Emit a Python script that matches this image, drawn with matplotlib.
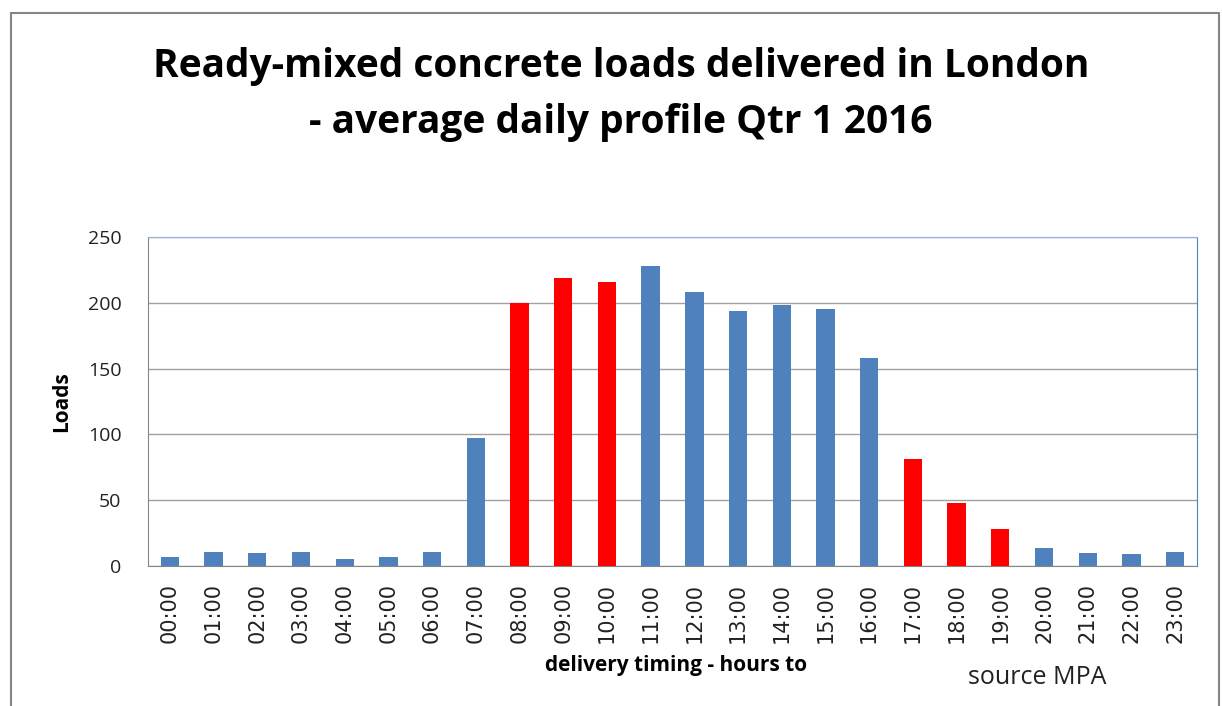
import numpy as np
import matplotlib.pyplot as plt
from matplotlib.patches import Rectangle

# hourly profile
hours = ['%02d:00' % h for h in range(24)]
loads = [7, 11, 10, 11, 5, 7, 11, 97, 200, 219, 216, 228,
         208, 194, 198, 195, 158, 81, 48, 28, 14, 10, 9, 11]
highlight = ['08:00', '09:00', '10:00', '17:00', '18:00', '19:00']

blue = '#4F81BD'
red = '#FF0000'
colors = [red if h in highlight else blue for h in hours]

fig = plt.figure(figsize=(12.22, 7.06), dpi=100)
ax = fig.add_axes([148/1222, 1 - 566/706, (1197 - 148)/1222, (566 - 237)/706])

x = np.arange(len(hours))
ax.bar(x, loads, width=0.42, color=colors, zorder=3)

ax.set_xlim(-0.5, len(hours) - 0.5)
ax.set_ylim(0, 250)
ax.set_yticks([0, 50, 100, 150, 200, 250])
ax.set_xticks(x)
ax.set_xticklabels(hours, rotation=90, fontsize=15, family='DejaVu Sans',
                   color='#222222')
ax.tick_params(axis='y', labelsize=14, length=0, pad=19, labelcolor='#222222')
ax.tick_params(axis='x', length=0, pad=12)
for t in ax.get_yticklabels():
    t.set_family('Open Sans')
ax.grid(axis='y', color='#A0A0A0', linewidth=1, zorder=0)

ax.spines['left'].set_color('#868686')
ax.spines['bottom'].set_color('#868686')
ax.spines['top'].set_color('#8EB4E3')
ax.spines['right'].set_color('#4F81BD')

ax.set_ylabel('Loads', fontsize=15, fontweight='bold', family='Open Sans', labelpad=11)

fig.text(0.508, 0.906, 'Ready-mixed concrete loads delivered in London',
         ha='center', va='center', fontsize=28, fontweight='bold', family='Open Sans')
fig.text(0.508, 0.826, '- average daily profile Qtr 1 2016',
         ha='center', va='center', fontsize=28, fontweight='bold', family='Open Sans')
fig.text(0.553, 0.058, 'delivery timing - hours to', ha='center', va='center',
         fontsize=15, fontweight='bold', family='Open Sans')
fig.text(0.849, 0.040, 'source MPA', ha='center', va='center',
         fontsize=18, family='Open Sans', color='#222222')

# outer chart border
fig.patches.append(Rectangle((11/1222, -0.05), (1219 - 11)/1222, 1.05 - 13/706,
                             transform=fig.transFigure, fill=False,
                             edgecolor='#868686', linewidth=1.5))

fig.savefig('out.png', dpi=100)
